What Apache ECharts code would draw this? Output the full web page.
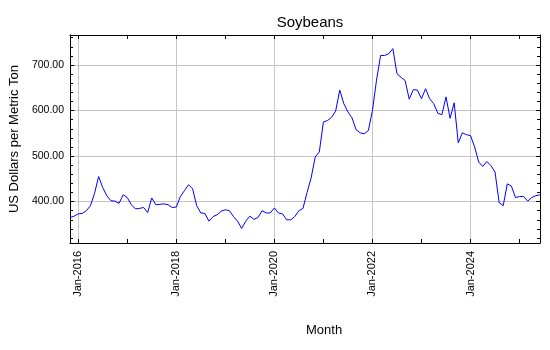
<!DOCTYPE html>
<html>
<head>
<meta charset="utf-8">
<script src="https://cdn.jsdelivr.net/npm/echarts@6/dist/echarts.min.js"></script>
<style>html,body{margin:0;padding:0;background:#fff}#c{width:550px;height:350px}</style>
</head>
<body>
<div id="c"></div>
<script>
var monthNames = ['Jan','Feb','Mar','Apr','May','Jun','Jul','Aug','Sep','Oct','Nov','Dec'];
var startYear = 2015, startMonth = 10; // Nov 2015 (0-based month index)
var prices = [
  365, 368,
  373, 374, 380, 391, 418, 455, 431, 413, 402, 401, 396, 415,
  409, 393, 384, 385, 387, 376, 408, 393, 394, 395, 393, 387,
  388, 411, 424, 437, 428, 391, 375, 374, 357, 367, 371, 379,
  382, 380, 367, 357, 341, 357, 368, 361, 365, 380, 375, 375,
  386, 375, 373, 360, 360, 367, 380, 385, 420, 452, 498, 509,
  575, 578, 585, 599, 645, 615, 597, 584, 558, 551, 549, 556,
  600, 667, 721, 721, 725, 736, 681, 673, 666, 625, 646, 645,
  626, 648, 626, 615, 594, 591, 630, 583, 617, 529, 551, 547,
  545, 520, 487, 477, 488, 479, 465, 398, 391, 439, 434, 409,
  411, 411, 401, 409, 413, 415
];
var months = [];
for (var i = 0; i < prices.length; i++) {
  var m = (startMonth + i) % 12;
  var y = startYear + Math.floor((startMonth + i) / 12);
  months.push(monthNames[m] + '-' + y);
}
var yMin = 309, yMax = 766;
var titleText = 'Soybeans';
var yName = 'US Dollars per Metric Ton';
var xName = 'Month';

function isJan(v) { return v.indexOf('Jan-') === 0; }
function isJanEven(v) { return isJan(v) && (parseInt(v.slice(4), 10) % 2 === 0); }

var font = 'Liberation Sans, Arial, sans-serif';
var chart = echarts.init(document.getElementById('c'), null, {renderer: 'canvas'});
chart.setOption({
  animation: false,
  backgroundColor: '#ffffff',
  title: {
    text: titleText, left: 305, top: 10, textAlign: 'center',
    textStyle: {fontFamily: font, fontSize: 15, fontWeight: 'normal', color: '#000'}
  },
  grid: {left: 70, top: 35, right: 10, bottom: 107, containLabel: false},
  graphic: [{
    type: 'text', left: 306, top: 324, silent: true,
    style: {text: xName, fontFamily: font, fontSize: 13, fill: '#000'}
  }],
  xAxis: [{
    type: 'category', data: months, boundaryGap: false, position: 'bottom',
    axisLine: {show: true, onZero: false, lineStyle: {color: '#000', width: 1}},
    axisTick: {show: true, inside: true, length: 4, lineStyle: {color: '#000'},
      interval: function (idx, v) { return isJan(v); }},
    axisLabel: {show: true, rotate: 90, margin: 8, fontFamily: font, fontSize: 11, color: '#000',
      interval: function (idx, v) { return isJanEven(v); }},
    splitLine: {show: true, lineStyle: {color: '#c8c8c8', width: 1},
      interval: function (idx, v) { return isJanEven(v); }}
  }, {
    type: 'category', data: months, boundaryGap: false, position: 'top',
    axisLine: {show: true, onZero: false, lineStyle: {color: '#000', width: 1}},
    axisTick: {show: true, inside: true, length: 4, lineStyle: {color: '#000'},
      interval: function (idx, v) { return isJan(v); }},
    axisLabel: {show: false},
    splitLine: {show: false}
  }],
  yAxis: [{
    type: 'value', min: yMin, max: yMax, splitNumber: 5, position: 'left',
    name: yName, nameLocation: 'middle', nameGap: 47, nameRotate: 90,
    nameTextStyle: {fontFamily: font, fontSize: 13, color: '#000'},
    axisLine: {show: true, onZero: false, lineStyle: {color: '#000', width: 1}},
    axisTick: {show: true, inside: true, length: 4, lineStyle: {color: '#000'}},
    minorTick: {show: true, splitNumber: 5, length: 3, lineStyle: {color: '#000'}},
    axisLabel: {show: true, margin: 6, fontFamily: font, fontSize: 10.5, color: '#000',
      showMinLabel: false, showMaxLabel: false,
      formatter: function (v) { return v.toFixed(2); }},
    splitLine: {show: true, lineStyle: {color: '#c8c0c8', width: 1}}
  }, {
    type: 'value', min: yMin, max: yMax, splitNumber: 5, position: 'right',
    axisLine: {show: true, onZero: false, lineStyle: {color: '#000', width: 1}},
    axisTick: {show: true, inside: true, length: 4, lineStyle: {color: '#000'}},
    minorTick: {show: true, splitNumber: 5, length: 3, lineStyle: {color: '#000'}},
    axisLabel: {show: false},
    splitLine: {show: false}
  }],
  series: [{
    type: 'line', data: prices, xAxisIndex: 0, yAxisIndex: 0,
    showSymbol: false, symbol: 'none',
    lineStyle: {color: '#0000ff', width: 1},
    itemStyle: {color: '#0000ff'}
  }]
});
</script>
</body>
</html>
